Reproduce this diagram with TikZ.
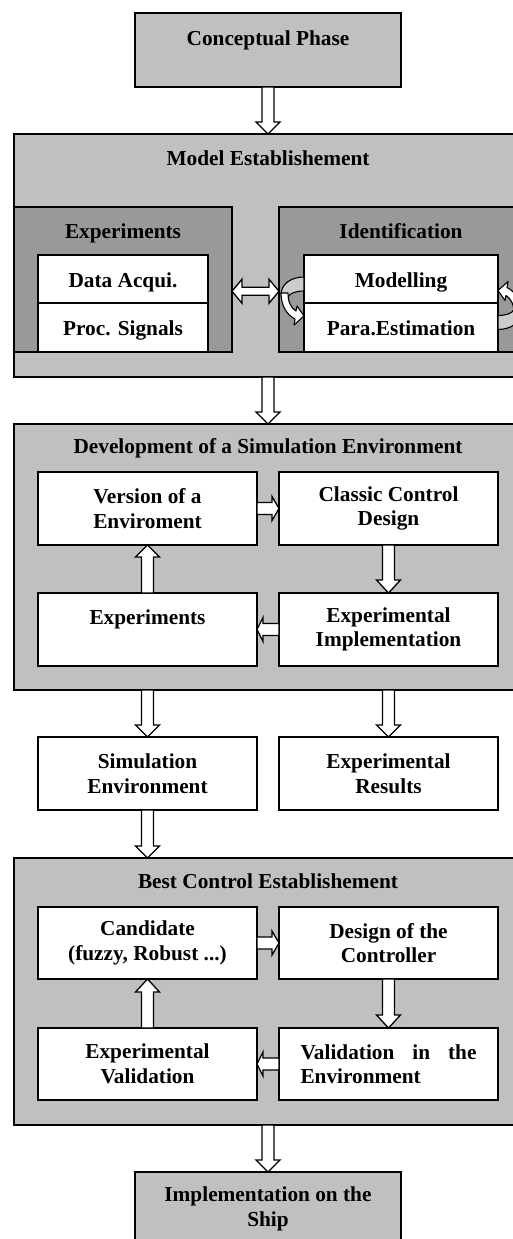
\documentclass[tikz,border=0pt]{standalone}
\usepackage{fontspec}
\setmainfont{Liberation Serif}
\usetikzlibrary{calc}
\definecolor{cgray}{HTML}{C0C0C0}
\definecolor{cdark}{HTML}{999999}
\definecolor{clight}{HTML}{CCCCCC}
\newcommand{\darr}[3]{\draw[barrow] let \p1=#1, \p2=#2 in (\x1-6pt,\y1) -- (\x1+6pt,\y1) -- (\x1+6pt,\y2+#3pt) -- (\x1+12pt,\y2+#3pt) -- (\x1,\y2) -- (\x1-12pt,\y2+#3pt) -- (\x1-6pt,\y2+#3pt) -- cycle;}
\newcommand{\uarr}[3]{\draw[barrow] let \p1=#1, \p2=#2 in (\x1-6pt,\y1) -- (\x1+6pt,\y1) -- (\x1+6pt,\y2-#3pt) -- (\x1+12pt,\y2-#3pt) -- (\x1,\y2) -- (\x1-12pt,\y2-#3pt) -- (\x1-6pt,\y2-#3pt) -- cycle;}
\newcommand{\rarr}[3]{\draw[barrow] let \p1=#1, \p2=#2 in (\x1,\y1+6pt) -- (\x2-#3pt,\y1+6pt) -- (\x2-#3pt,\y1+12pt) -- (\x2,\y1) -- (\x2-#3pt,\y1-12pt) -- (\x2-#3pt,\y1-6pt) -- (\x1,\y1-6pt) -- cycle;}
\newcommand{\larr}[3]{\draw[barrow] let \p1=#1, \p2=#2 in (\x1,\y1+6pt) -- (\x2+#3pt,\y1+6pt) -- (\x2+#3pt,\y1+12pt) -- (\x2,\y1) -- (\x2+#3pt,\y1-12pt) -- (\x2+#3pt,\y1-6pt) -- (\x1,\y1-6pt) -- cycle;}
\begin{document}
\begin{tikzpicture}[x=1pt,y=-1pt,
  every node/.style={font=\fontsize{21.3pt}{24.5pt}\selectfont\bfseries, inner sep=0pt, outer sep=0pt, align=center},
  gbox/.style={draw=black, line width=1.6pt, fill=cgray},
  dbox/.style={draw=black, line width=1.6pt, fill=cdark},
  wbox/.style={draw=black, line width=1.6pt, fill=white},
  bigbox/.style={gbox, minimum width=508pt},
  cell/.style={wbox, minimum width=219pt, minimum height=73pt},
  sline/.style={text height=16pt, text depth=0pt},
  barrow/.style={draw=black, line width=1.3pt, fill=white, line join=miter},
  carrow/.style={draw=black, line width=1.1pt, line join=round}]
\useasboundingbox (0,0) rectangle (513,1239);
\clip (0,0) rectangle (513,1239);

% Conceptual phase
\node[gbox, minimum width=266pt, minimum height=74pt] (concept) at (268,50) {Conceptual Phase\\\phantom{X}};

% Model establishment
\node[bigbox, minimum height=243pt] (model) at (268,255.5) {};
\node[anchor=base] (tmodel) at (268,165) {Model Establishement};
\node[dbox, minimum width=218pt, minimum height=145pt] (expd) at (123,279.5) {};
\node[dbox, minimum width=243pt, minimum height=145pt] (idd) at (400.5,279.5) {};
\node[anchor=base] (texp) at (123,238) {Experiments};
\node[anchor=base] (tid) at (401,238) {Identification};
\node[wbox, sline, minimum width=170pt, minimum height=48pt] (data) at (123,279) {Data Acqui.};
\node[wbox, sline, minimum width=170pt, minimum height=49pt] (proc) at (123,327.5) {Proc. Signals};
\node[wbox, sline, minimum width=194pt, minimum height=48pt] (mod) at (401,279) {Modelling};
\node[wbox, sline, minimum width=194pt, minimum height=49pt] (para) at (401,327.5) {Para.Estimation};

% Development of a simulation environment
\node[bigbox, minimum height=266pt] (dev) at (268,557) {};
\node[anchor=base] (tdev) at (268,453) {Development of a Simulation Environment};
\node[cell] (ver) at (147.5,508.5) {Version of a\\Enviroment};
\node[cell] (cls) at (388.5,508.5) {Classic Control\\Design};
\node[cell] (exp) at (147.5,629.5) {Experiments\\\phantom{X}};
\node[cell] (eim) at (388.5,629.5) {Experimental\\Implementation};

% Results
\node[cell] (sim) at (147.5,773.5) {Simulation\\Environment};
\node[cell] (res) at (388.5,773.5) {Experimental\\Results};

% Best control establishment
\node[bigbox, minimum height=267pt] (best) at (268,991.5) {};
\node[anchor=base] (tbest) at (268,888) {Best Control Establishement};
\node[cell, minimum height=72pt] (cand) at (147.5,943) {Candidate\\(fuzzy, Robust ...)};
\node[cell, minimum height=72pt] (des) at (388.5,943) {Design of the\\Controller};
\node[cell, minimum height=72pt] (eval) at (147.5,1064) {Experimental\\Validation};
\node[cell, minimum height=72pt, text width=176pt, align=left] (venv) at (388.5,1064) {\hbox to 176pt{Validation\hfil in\hfil the}\\Environment};

% Implementation
\node[gbox, minimum width=266pt, minimum height=74pt] (impl) at (268,1209) {Implementation on the\\Ship};

% block arrows
\darr{(concept.south)}{(model.north)}{12}
\darr{(model.south)}{(dev.north)}{12}
\rarr{(ver.east)}{(cls.west)}{7}
\darr{(cls.south)}{(eim.north)}{13}
\larr{(eim.west)}{(exp.east)}{6}
\uarr{(exp.north)}{(ver.south)}{12}
\darr{(dev.south -| sim.north)}{(sim.north)}{12}
\darr{(dev.south -| res.north)}{(res.north)}{12}
\darr{(sim.south)}{(best.north -| sim.south)}{12}
\rarr{(cand.east)}{(des.west)}{7}
\darr{(des.south)}{(venv.north)}{13}
\larr{(venv.west)}{(eval.east)}{6}
\uarr{(eval.north)}{(cand.south)}{13}
\darr{(best.south)}{(impl.north)}{12}

% double arrow
\draw[barrow] let \p1=(expd.east), \p2=(idd.west), \p3=($(expd.east)!0.5!(expd.east |- data.south)$) in
  (\x1,\y3) -- (\x1+10pt,\y3+12pt) -- (\x1+10pt,\y3+4pt) -- (\x2-10pt,\y3+4pt) -- (\x2-10pt,\y3+12pt) -- (\x2,\y3)
  -- (\x2-10pt,\y3-12pt) -- (\x2-10pt,\y3-4pt) -- (\x1+10pt,\y3-4pt) -- (\x1+10pt,\y3-12pt) -- cycle;

% curved arrows
\begin{scope}[shift={(mod.west)}]
  \draw[carrow, fill=clight] (0,-2) .. controls (-13,-2) and (-23,5) .. (-23,16) -- (-16,18) .. controls (-14,14) and (-8,12) .. (0,12) -- cycle;
  \draw[carrow, fill=white] (-23,14) .. controls (-23,27) and (-17,36) .. (-9,40) -- (-10,46) -- (0,37) -- (-7,27) -- (-8,32) .. controls (-13,29) and (-16,23) .. (-16,14) -- cycle;
\end{scope}
\begin{scope}[shift={(para.east)}, rotate=180]
  \draw[carrow, fill=clight] (0,-2) .. controls (-13,-2) and (-23,5) .. (-23,16) -- (-16,18) .. controls (-14,14) and (-8,12) .. (0,12) -- cycle;
  \draw[carrow, fill=white] (-23,14) .. controls (-23,27) and (-17,36) .. (-9,40) -- (-10,46) -- (0,37) -- (-7,27) -- (-8,32) .. controls (-13,29) and (-16,23) .. (-16,14) -- cycle;
\end{scope}
\end{tikzpicture}
\end{document}
